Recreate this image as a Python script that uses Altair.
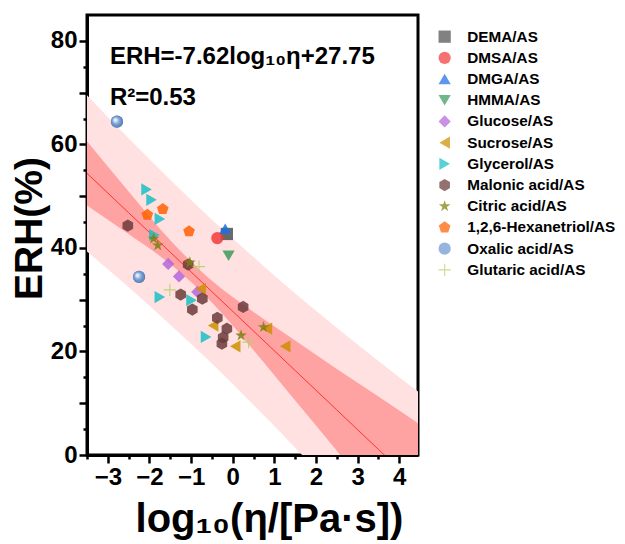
import altair as alt
import pandas as pd

# ---- data ----
series = ["DEMA/AS", "DMSA/AS", "DMGA/AS", "HMMA/AS", "Glucose/AS", "Sucrose/AS",
          "Glycerol/AS", "Malonic acid/AS", "Citric acid/AS", "1,2,6-Hexanetriol/AS",
          "Oxalic acid/AS", "Glutaric acid/AS"]

dema_x = [-0.14]; dema_y = [42.7]
dmsa_x = [-0.37]; dmsa_y = [41.9]
dmga_x = [-0.18]; dmga_y = [43.7]
hmma_x = [-0.10]; hmma_y = [38.5]
glucose_x = [-1.55, -1.29, -0.85]; glucose_y = [36.9, 34.5, 31.5]
sucrose_x = [-0.77, -0.47, 0.06, 0.82, 1.26]; sucrose_y = [32.1, 25.0, 21.0, 24.4, 21.0]
glycerol_x = [-2.07, -1.95, -1.75, -1.88, -1.75, -0.99, -0.64]
glycerol_y = [51.3, 49.3, 45.6, 42.5, 30.5, 29.9, 22.8]
malonic_x = [-2.52, -1.07, -1.25, -0.97, -0.73, 0.25, -0.37, -0.14, -0.23, -0.26]
malonic_y = [44.3, 36.8, 31.0, 28.1, 30.2, 28.6, 26.5, 24.4, 22.7, 21.5]
citric_x = [-1.90, -1.80, -1.03, 0.20, 0.74]; citric_y = [41.8, 40.5, 37.2, 23.1, 24.7]
hexanetriol_x = [-2.05, -1.68, -1.05]; hexanetriol_y = [46.4, 47.5, 43.2]
oxalic_x = [-2.78, -2.25]; oxalic_y = [64.4, 34.4]
glutaric_x = [-0.81, -1.51, 0.38]; glutaric_y = [36.4, 31.9, 21.8]

all_x = [dema_x, dmsa_x, dmga_x, hmma_x, glucose_x, sucrose_x, glycerol_x,
         malonic_x, citric_x, hexanetriol_x, oxalic_x, glutaric_x]
all_y = [dema_y, dmsa_y, dmga_y, hmma_y, glucose_y, sucrose_y, glycerol_y,
         malonic_y, citric_y, hexanetriol_y, oxalic_y, glutaric_y]

# fit line from the annotation
slope = -7.62
intercept = 27.75

# band edges
band_x = [-3.5, -2.5, -1.5, -0.5, 0.5, 1.5, 2.5, 3.5, 4.5]
conf_half = [6.2, 4.1, 2.3, 2.1, 3.7, 5.8, 7.9, 10.2, 12.4]
pred_half = [15.1, 14.4, 14.0, 13.9, 14.3, 14.9, 15.9, 17.1, 18.5]

x_major = [-3, -2, -1, 0, 1, 2, 3, 4]
x_minor = [-3.5, -2.5, -1.5, -0.5, 0.5, 1.5, 2.5, 3.5]
y_major = [0, 10, 20, 30, 40, 50, 60, 70, 80]
y_minor = [5, 15, 25, 35, 45, 55, 65, 75]

# ---- styles ----
colors = ["#505050", "#f23a3a", "#1d6fe0", "#3c9a5c", "#b565db", "#cc9000",
          "#19bfc4", "#6b3a3a", "#7f7f0a", "#ff6000", "#6e98cf", "#b5cf66"]
hexagon = "M0,-1L0.866,-0.5L0.866,0.5L0,1L-0.866,0.5L-0.866,-0.5Z"
star = ("M0,-1L0.223,-0.307L0.951,-0.309L0.361,0.117L0.588,0.809L0,0.38L-0.588,0.809"
        "L-0.361,0.117L-0.951,-0.309L-0.223,-0.307Z")
pentagon = "M0,-1L0.951,-0.309L0.588,0.809L-0.588,0.809L-0.951,-0.309Z"
plus = "M-1,-0.09L1,-0.09L1,0.09L-1,0.09Z M-0.09,-1L0.09,-1L0.09,1L-0.09,1Z"
shapes = ["square", "circle", "triangle-up", "triangle-down", "diamond", "triangle-left",
          "triangle-right", hexagon, star, pentagon, "circle", plus]

FONT = "Liberation Sans"

rows = []
for name, xs, ys in zip(series, all_x, all_y):
    for xv, yv in zip(xs, ys):
        rows.append({"series": name, "x": xv, "y": yv})
pts = pd.DataFrame(rows)
oxalic = pd.DataFrame({"x": oxalic_x, "y": oxalic_y})

band = pd.DataFrame({
    "x": band_x,
    "fit": [intercept + slope * v for v in band_x],
})
band["clo"] = band["fit"] - pd.Series(conf_half)
band["chi"] = band["fit"] + pd.Series(conf_half)
band["plo"] = band["fit"] - pd.Series(pred_half)
band["phi"] = band["fit"] + pd.Series(pred_half)

xscale = alt.Scale(domain=[-3.5, 4.45], nice=False, zero=False)
yscale = alt.Scale(domain=[0, 85], nice=False)

common = dict(labelFont=FONT, labelFontSize=24, labelFontWeight="bold",
              labelColor="black", labelOverlap=False, labelFlush=False,
              tickColor="black", tickWidth=2.5, domainWidth=3, domainColor="black",
              grid=False, titleFont=FONT, titleFontWeight="bold", titleColor="black")

xaxis = alt.Axis(values=x_major, orient="bottom", title="log₁₀(η/[Pa·s])",
                 titleFontSize=40, titlePadding=10, titleX=182,
                 tickSize=8, labelPadding=2, **common)
yaxis = alt.Axis(values=y_major, orient="left",
                 labelExpr="datum.value % 20 === 0 ? datum.label : ''",
                 title="ERH(%)", titleFontSize=39, titlePadding=1, titleY=213,
                 tickSize=8, labelPadding=2, **common)
xaxis_minor = alt.Axis(values=x_minor, orient="bottom", labels=False, title=None,
                       tickSize=4, tickColor="black", tickWidth=2.5, domain=False,
                       grid=False)
yaxis_minor = alt.Axis(values=y_minor, orient="left", labels=False, title=None,
                       tickSize=4, tickColor="black", tickWidth=2.5, domain=False,
                       grid=False)

base = alt.Chart(band)
pred = base.mark_area(color="#ffe1e1", interpolate="monotone", clip=True).encode(
    x=alt.X("x:Q", scale=xscale, axis=xaxis), y=alt.Y("plo:Q", scale=yscale, axis=yaxis),
    y2="phi:Q")
minor = base.mark_point(opacity=0, clip=True).encode(
    x=alt.X("x:Q", scale=xscale, axis=xaxis_minor),
    y=alt.Y("fit:Q", scale=yscale, axis=yaxis_minor))
conf = base.mark_area(color="#ffa2a2", interpolate="monotone", clip=True).encode(
    x=alt.X("x:Q", axis=None), y=alt.Y("clo:Q", axis=None), y2="chi:Q")
line = base.mark_line(color="#ff3333", strokeWidth=1, clip=True).encode(
    x=alt.X("x:Q", axis=None), y=alt.Y("fit:Q", axis=None))

points = alt.Chart(pts).mark_point(filled=True, size=150, opacity=0.85, strokeWidth=0).encode(
    x=alt.X("x:Q", axis=None), y=alt.Y("y:Q", axis=None),
    color=alt.Color("series:N", scale=alt.Scale(domain=series, range=colors),
                    legend=alt.Legend(title=None, orient="none", legendX=350, legendY=14,
                                      labelFont=FONT, labelFontSize=15.3,
                                      labelFontWeight="bold", labelColor="black",
                                      symbolSize=150, symbolStrokeWidth=0,
                                      symbolOpacity=1, labelOffset=15, rowPadding=5.2,
                                      padding=0, labelLimit=300)),
    shape=alt.Shape("series:N", scale=alt.Scale(domain=series, range=shapes)),
)

sphere = alt.Gradient(gradient="radial", x1=0.35, y1=0.35, r1=0.05, x2=0.5, y2=0.5, r2=0.6,
                      stops=[alt.GradientStop(color="#f4f8ff", offset=0),
                             alt.GradientStop(color="#7aa2d6", offset=0.45),
                             alt.GradientStop(color="#4a6fa8", offset=1)])
spheres = alt.Chart(oxalic).mark_point(shape="circle", filled=True, size=150,
                                       fill=sphere, strokeWidth=0, opacity=1).encode(
    x=alt.X("x:Q", axis=None), y=alt.Y("y:Q", axis=None))

ann = pd.DataFrame({"x": [-2.95, -2.95], "y": [75.5, 67.6],
                    "t": ["ERH=-7.62log₁₀η+27.75", "R²=0.53"]})
text = alt.Chart(ann).mark_text(align="left", baseline="alphabetic", font=FONT,
                                fontSize=24, fontWeight="bold", color="black").encode(
    x=alt.X("x:Q", axis=None), y=alt.Y("y:Q", axis=None), text="t:N")

chart = alt.layer(pred, minor, conf, line, points, spheres, text).resolve_axis(
    x="independent", y="independent"
).properties(
    width=331, height=440,
    autosize=alt.AutoSizeParams(type="none"),
    padding={"left": 79, "top": 7, "right": 199, "bottom": 89},
).configure_view(stroke="black", strokeWidth=3)

chart.save("out.html", embed_options={"renderer": "svg", "actions": False})
